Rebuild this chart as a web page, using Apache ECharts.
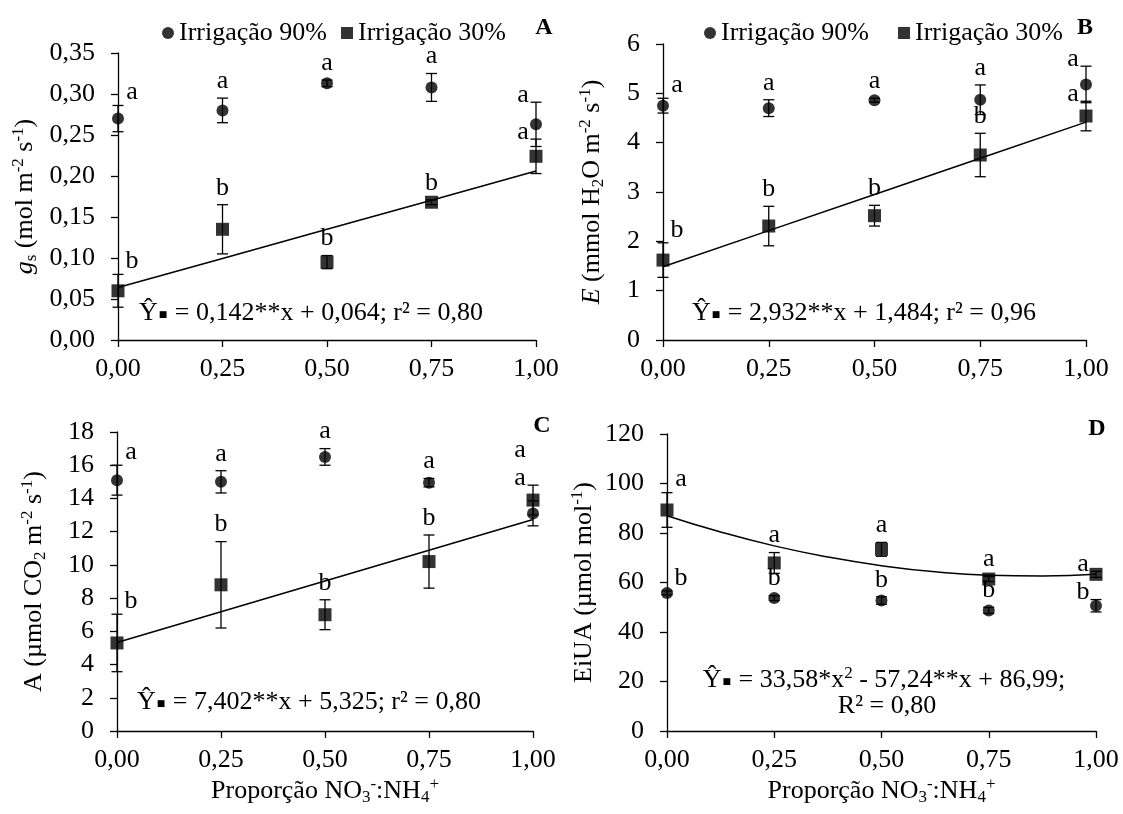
<!DOCTYPE html>
<html>
<head>
    <meta charset="UTF-8">
    <title>trocas gasosas x proporcao nitrato:amonio</title>
    <script src="https://cdn.jsdelivr.net/npm/echarts@6.0.0/dist/echarts.min.js"></script>
    <style>
        body, html {
            margin: 0;
            padding: 0;
            background: #fff;
        }

        #chart {
            width: 1123px;
            height: 814px;
        }
    </style>
</head>
<body>
<div id="chart"></div>
<script>
    var FONT = '"Liberation Serif", "Times New Roman", serif';

    // proporcao NO3-:NH4+
    var xs = [0, 0.25, 0.5, 0.75, 1];

    // A - gs (mol m-2 s-1)
    var gs90 = [0.270, 0.280, 0.313, 0.308, 0.263];
    var gs90Err = [0.016, 0.015, 0.004, 0.017, 0.027];
    var gs30 = [0.060, 0.135, 0.095, 0.168, 0.224];
    var gs30Err = [0.020, 0.030, 0.008, 0.003, 0.021];
    var gsFit = [0.064, 0.0995, 0.135, 0.1705, 0.206];
    var gsLet90 = ['a', 'a', 'a', 'a', 'a'];
    var gsLet30 = ['b', 'b', 'b', 'b', 'a'];

    // B - E (mmol H2O m-2 s-1)
    var e90 = [4.75, 4.70, 4.86, 4.87, 5.18];
    var e90Err = [0.15, 0.17, 0.04, 0.30, 0.37];
    var e30 = [1.62, 2.31, 2.52, 3.75, 4.54];
    var e30Err = [0.35, 0.40, 0.21, 0.44, 0.30];
    var eFit = [1.484, 2.217, 2.950, 3.683, 4.416];
    var eLet90 = ['a', 'a', 'a', 'a', 'a'];
    var eLet30 = ['b', 'b', 'b', 'b', 'a'];

    // C - A (umol CO2 m-2 s-1)
    var a90 = [15.1, 15.0, 16.5, 14.95, 13.1];
    var a90Err = [0.9, 0.67, 0.5, 0.25, 0.75];
    var a30 = [5.3, 8.8, 7.0, 10.2, 13.9];
    var a30Err = [1.73, 2.6, 0.9, 1.6, 0.9];
    var aFit = [5.325, 7.176, 9.026, 10.877, 12.727];
    var aLet90 = ['a', 'a', 'a', 'a', 'a'];
    var aLet30 = ['b', 'b', 'b', 'b', 'a'];

    // D - EiUA (umol mol-1)
    var w90 = [55.8, 53.7, 52.7, 48.7, 50.6];
    var w90Err = [0.8, 1.0, 1.5, 1.2, 2.5];
    var w30 = [89.3, 67.9, 73.4, 61.4, 63.3];
    var w30Err = [7.0, 4.2, 2.8, 1.0, 1.2];
    var wFitX = [0, 0.125, 0.25, 0.375, 0.5, 0.625, 0.75, 0.875, 1];
    var wFit = [87.0, 80.4, 74.8, 70.3, 66.8, 64.3, 62.9, 62.6, 63.3];
    var wLet90 = ['b', 'b', 'b', 'b', 'b'];
    var wLet30 = ['a', 'a', 'a', 'a', 'a'];

    var yMax = [0.35, 6, 18, 120];
    var yStep = [0.05, 1, 2, 20];

    var panels = [
        {v90: gs90, e90: gs90Err, v30: gs30, e30: gs30Err, fitX: xs, fit: gsFit, l90: gsLet90, l30: gsLet30, upper: '90', dec: 2, smooth: false},
        {v90: e90, e90: e90Err, v30: e30, e30: e30Err, fitX: xs, fit: eFit, l90: eLet90, l30: eLet30, upper: '90', dec: 0, smooth: false},
        {v90: a90, e90: a90Err, v30: a30, e30: a30Err, fitX: xs, fit: aFit, l90: aLet90, l30: aLet30, upper: '90', dec: 0, smooth: false},
        {v90: w90, e90: w90Err, v30: w30, e30: w30Err, fitX: wFitX, fit: wFit, l90: wLet90, l30: wLet30, upper: '30', dec: 0, smooth: true}
    ];

    var grids = [
        {left: 118, top: 53, width: 418, height: 287},
        {left: 663, top: 44, width: 423, height: 296},
        {left: 117, top: 432, width: 416, height: 299},
        {left: 667, top: 434, width: 429, height: 297}
    ];

    var nameRich = {
        n: {fontFamily: FONT, fontSize: 26, color: '#000', lineHeight: 30, verticalAlign: 'middle'},
        it: {fontFamily: FONT, fontSize: 26, color: '#000', fontStyle: 'italic', lineHeight: 30, verticalAlign: 'middle'},
        sup: {fontFamily: FONT, fontSize: 17, color: '#000', lineHeight: 16, verticalAlign: 'top'},
        sub: {fontFamily: FONT, fontSize: 17, color: '#000', lineHeight: 16, verticalAlign: 'bottom'}
    };

    var yNames = [
        '{it|g}{sub|s}{n| (mol m}{sup|-2}{n| s}{sup|-1}{n|)}',
        '{it|E}{n| (mmol H}{sub|2}{n|O m}{sup|-2}{n| s}{sup|-1}{n|)}',
        '{n|A (µmol CO}{sub|2}{n| m}{sup|-2}{n| s}{sup|-1}{n|)}',
        '{n|EiUA (µmol mol}{sup|-1}{n|)}'
    ];
    var yNameGap = [78, 56, 68, 68];
    var xName = '{n|Proporção NO}{sub|3}{sup|-}{n|:NH}{sub|4}{sup|+}';

    function comma(v, d) {
        return v.toFixed(d).replace('.', ',');
    }

    function errRender(params, api) {
        var x = api.value(0), v = api.value(1), e = api.value(2);
        var hi = api.coord([x, v + e]);
        var lo = api.coord([x, v - e]);
        var st = {stroke: '#000', lineWidth: 1.3};
        return {
            type: 'group', children: [
                {type: 'line', shape: {x1: hi[0], y1: hi[1], x2: lo[0], y2: lo[1]}, style: st},
                {type: 'line', shape: {x1: hi[0] - 5.5, y1: hi[1], x2: hi[0] + 5.5, y2: hi[1]}, style: st},
                {type: 'line', shape: {x1: lo[0] - 5.5, y1: lo[1], x2: lo[0] + 5.5, y2: lo[1]}, style: st}
            ]
        };
    }

    function letterRender(p) {
        return function (params, api) {
            var i = params.dataIndex;
            var x = api.value(0);
            var c90 = api.coord([x, api.value(1)]);
            var c30 = api.coord([x, api.value(2)]);
            var last = xs.length - 1;
            var dx = i === 0 ? 14 : (i === last ? -13 : 0);
            var d = i === 0 ? 13 : (i === last ? 7 : 17);
            var y90 = c90[1] - d, y30 = c30[1] - d;
            if (p.upper === '90') {
                if (y90 > y30 - 28) y90 = y30 - 28;
            } else {
                if (y30 > y90 - 28) y30 = y90 - 28;
            }
            function txt(t, y) {
                return {
                    type: 'text', x: c90[0] + dx, y: y,
                    style: {text: t, font: '26px ' + FONT, fill: '#000', align: 'center', verticalAlign: 'middle'}
                };
            }
            return {type: 'group', children: [txt(p.l90[i], y90), txt(p.l30[i], y30)]};
        };
    }

    var xAxes = [], yAxes = [], series = [];
    panels.forEach(function (p, k) {
        xAxes.push({
            gridIndex: k, type: 'value', min: 0, max: 1, interval: 0.25,
            axisLine: {show: true, onZero: false, lineStyle: {color: '#000', width: 1.3}},
            axisTick: {show: true, length: 7, lineStyle: {color: '#000', width: 1.3}},
            axisLabel: {color: '#000', fontFamily: FONT, fontSize: 26, margin: 16, formatter: function (v) { return comma(v, 2); }},
            splitLine: {show: false},
            name: k >= 2 ? xName : '',
            nameLocation: 'middle', nameGap: 45,
            nameTextStyle: {rich: nameRich}
        });
        yAxes.push({
            gridIndex: k, type: 'value', min: 0, max: yMax[k], interval: yStep[k],
            axisLine: {show: true, onZero: false, lineStyle: {color: '#000', width: 1.3}},
            axisTick: {show: true, length: 7, lineStyle: {color: '#000', width: 1.3}},
            axisLabel: {color: '#000', fontFamily: FONT, fontSize: 26, margin: 23, formatter: function (v) { return comma(v, p.dec); }},
            splitLine: {show: false},
            name: yNames[k], nameLocation: 'middle', nameRotate: 90, nameGap: yNameGap[k],
            nameTextStyle: {rich: nameRich}
        });

        series.push({
            type: 'custom', xAxisIndex: k, yAxisIndex: k, renderItem: errRender, z: 2,
            data: xs.map(function (x, i) { return [x, p.v90[i], p.e90[i]]; })
        });
        series.push({
            type: 'custom', xAxisIndex: k, yAxisIndex: k, renderItem: errRender, z: 2,
            data: xs.map(function (x, i) { return [x, p.v30[i], p.e30[i]]; })
        });
        series.push({
            type: 'line', xAxisIndex: k, yAxisIndex: k, showSymbol: false, smooth: p.smooth, z: 3,
            lineStyle: {color: '#000', width: 1.5}, silent: true,
            data: p.fitX.map(function (x, i) { return [x, p.fit[i]]; })
        });
        series.push({
            name: 'Irrigação 90%', type: 'scatter', xAxisIndex: k, yAxisIndex: k, z: 4,
            symbol: 'circle', symbolSize: 12, itemStyle: {color: '#000'},
            data: xs.map(function (x, i) { return [x, p.v90[i]]; })
        });
        series.push({
            name: 'Irrigação 30%', type: 'scatter', xAxisIndex: k, yAxisIndex: k, z: 4,
            symbol: 'rect', symbolSize: 13, itemStyle: {color: '#000'},
            data: xs.map(function (x, i) { return [x, p.v30[i]]; })
        });
        series.push({
            type: 'custom', xAxisIndex: k, yAxisIndex: k, renderItem: letterRender(p), z: 5, silent: true,
            data: xs.map(function (x, i) { return [x, p.v90[i] + p.e90[i], p.v30[i] + p.e30[i]]; })
        });
    });

    var legendBase = {
        top: 15, itemWidth: 12, itemHeight: 12, itemStyle: {color: '#000'},
        textStyle: {color: '#000', fontFamily: FONT, fontSize: 26},
        data: [{name: 'Irrigação 90%', icon: 'circle'}, {name: 'Irrigação 30%', icon: 'rect'}],
        selectedMode: false
    };

    var eqRich = {
        t: {fontFamily: FONT, fontSize: 26, fill: '#000', lineHeight: 30, verticalAlign: 'middle'},
        s: {fontFamily: '"DejaVu Sans", sans-serif', fontSize: 9, fill: '#000', lineHeight: 30, verticalAlign: 'middle', padding: [4, 1, 0, 1]},
        sup: {fontFamily: FONT, fontSize: 17, fill: '#000', lineHeight: 16, verticalAlign: 'top'}
    };

    function eqText(x, y, text) {
        return {
            type: 'text', x: x, y: y,
            style: {text: text, rich: eqRich, align: 'center', verticalAlign: 'middle'}
        };
    }

    function panelTag(x, y, t) {
        return {
            type: 'text', x: x, y: y,
            style: {text: t, font: 'bold 24px ' + FONT, fill: '#000', align: 'center', verticalAlign: 'middle'}
        };
    }

    var chart = echarts.init(document.getElementById('chart'), null, {renderer: 'canvas'});
    chart.setOption({
        backgroundColor: '#fff',
        animation: false,
        grid: grids,
        xAxis: xAxes,
        yAxis: yAxes,
        legend: [
            Object.assign({}, legendBase, {left: 157, itemGap: 14}),
            Object.assign({}, legendBase, {left: 699, itemGap: 29})
        ],
        graphic: [
            panelTag(544, 28, 'A'),
            panelTag(1085, 28, 'B'),
            panelTag(542, 426, 'C'),
            panelTag(1097, 429, 'D'),
            eqText(311, 313, '{t|Ŷ}{s|■}{t| = 0,142**x + 0,064; r² = 0,80}'),
            eqText(864, 313, '{t|Ŷ}{s|■}{t| = 2,932**x + 1,484; r² = 0,96}'),
            eqText(309, 702, '{t|Ŷ}{s|■}{t| = 7,402**x + 5,325; r² = 0,80}'),
            eqText(884, 680, '{t|Ŷ}{s|■}{t| = 33,58*x}{sup|2}{t| - 57,24**x + 86,99;}'),
            eqText(887, 706, '{t|R² = 0,80}')
        ],
        series: series
    });
</script>
</body>
</html>
